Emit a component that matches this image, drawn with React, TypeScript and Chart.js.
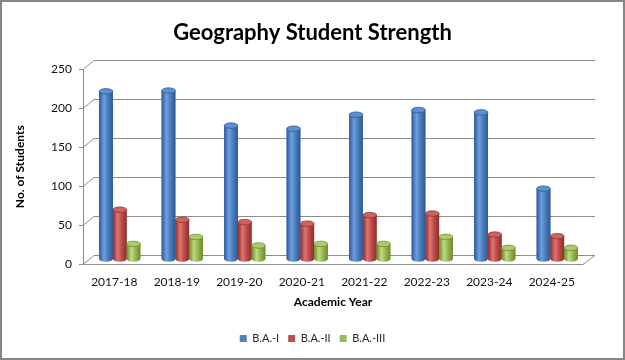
import React, { useEffect, useRef } from 'react';
import { Chart, registerables } from 'chart.js';

Chart.register(...registerables);

const categories = ['2017-18', '2018-19', '2019-20', '2020-21', '2021-22', '2022-23', '2023-24', '2024-25'];
const seriesNames = ['B.A.-I', 'B.A.-II', 'B.A.-III'];
const baI = [216, 217, 172, 168, 186, 192, 189, 91];
const baII = [64, 51, 48, 46, 57, 59, 32, 30];
const baIII = [20, 29, 18, 20, 20, 29, 15, 15];
const yTickValues = [0, 50, 100, 150, 200, 250];

const FONT = 'Lato, "Open Sans", sans-serif';
const DX = 11;
const DY = -9;

const palette = [
  { base: '#4F81BD', dark: '#2B5896', light: '#6E9EE0', cap: '#5E8FD2', edge: '#2F5D96' },
  { base: '#C0504D', dark: '#8C2E2B', light: '#E07572', cap: '#CF625F', edge: '#8E3431' },
  { base: '#9BBB59', dark: '#6A8A2F', light: '#BEDC7E', cap: '#AECB6C', edge: '#6F8E36' },
];

const depthPlugin = {
  id: 'depth3d',
  beforeDatasetsDraw(chart: any) {
    const { ctx, chartArea, scales } = chart;
    const y = scales.y;
    ctx.save();
    ctx.strokeStyle = '#8C8C8C';
    ctx.lineWidth = 1;
    const rightBack = chartArea.right + 12;
    yTickValues.forEach((v) => {
      const py = Math.round(y.getPixelForValue(v)) + 0.5;
      ctx.beginPath();
      ctx.moveTo(chartArea.left, py);
      ctx.lineTo(chartArea.left + DX, py + DY);
      ctx.lineTo(rightBack, py + DY);
      ctx.stroke();
    });
    const p0 = Math.round(y.getPixelForValue(0)) + 0.5;
    ctx.beginPath();
    ctx.moveTo(chartArea.left, p0);
    ctx.lineTo(chartArea.right, p0);
    ctx.lineTo(rightBack, p0 + DY);
    ctx.stroke();
    ctx.restore();
    ctx.save();
    ctx.translate(DX / 2, DY / 2);
  },
  afterDatasetsDraw(chart: any) {
    const { ctx } = chart;
    chart.data.datasets.forEach((ds: any, di: number) => {
      const meta = chart.getDatasetMeta(di);
      const col = palette[di];
      meta.data.forEach((bar: any) => {
        const { x, y, base, width } = bar.getProps(['x', 'y', 'base', 'width'], true);
        const left = x - width / 2;
        const rx = width / 2;
        const ry = width * 0.2;
        const g = ctx.createLinearGradient(left, 0, left + width, 0);
        g.addColorStop(0, col.dark);
        g.addColorStop(0.35, col.light);
        g.addColorStop(0.6, col.base);
        g.addColorStop(1, col.dark);
        ctx.save();
        ctx.fillStyle = g;
        ctx.beginPath();
        ctx.moveTo(left, y);
        ctx.lineTo(left, base);
        ctx.ellipse(x, base, rx, ry, 0, Math.PI, 0, true);
        ctx.lineTo(left + width, y);
        ctx.closePath();
        ctx.fill();
        ctx.beginPath();
        ctx.ellipse(x, y, rx, ry, 0, 0, Math.PI * 2);
        ctx.fillStyle = col.cap;
        ctx.fill();
        ctx.strokeStyle = col.edge;
        ctx.lineWidth = 0.8;
        ctx.stroke();
        ctx.restore();
      });
    });
    ctx.restore();
  },
  afterDraw(chart: any) {
    const { ctx, width, height } = chart;
    ctx.save();
    ctx.strokeStyle = '#868686';
    ctx.lineWidth = 2;
    ctx.strokeRect(1, 1, width - 2, height - 2);
    ctx.restore();
  },
};

export default function App() {
  const ref = useRef<HTMLCanvasElement | null>(null);
  useEffect(() => {
    document.body.style.margin = '0';
    const canvas = ref.current;
    if (!canvas) return;
    const chart = new Chart(canvas, {
      type: 'bar',
      data: {
        labels: categories,
        datasets: [
          { label: seriesNames[0], data: baI, backgroundColor: palette[0].base, borderWidth: 0 },
          { label: seriesNames[1], data: baII, backgroundColor: palette[1].base, borderWidth: 0 },
          { label: seriesNames[2], data: baIII, backgroundColor: palette[2].base, borderWidth: 0 },
        ],
      },
      options: {
        animation: false,
        responsive: false,
        maintainAspectRatio: false,
        devicePixelRatio: 1,
        layout: { padding: { left: 42, right: 42, top: 0, bottom: 6 } },
        datasets: { bar: { categoryPercentage: 0.66, barPercentage: 1 } },
        plugins: {
          title: {
            display: true,
            text: 'Geography Student Strength',
            color: '#000',
            font: { family: FONT, size: 22, weight: 'bold' },
            padding: { top: 20, bottom: 23 },
          },
          legend: {
            position: 'bottom',
            labels: {
              boxWidth: 7,
              boxHeight: 7,
              padding: 9,
              color: '#262626',
              font: { family: FONT, size: 11 },
            },
          },
          tooltip: { enabled: false },
        },
        scales: {
          x: {
            grid: { display: false, drawTicks: false },
            border: { display: false },
            ticks: { color: '#111', font: { family: FONT, size: 12 }, padding: 11 },
            title: {
              display: true,
              text: 'Academic Year',
              color: '#000',
              font: { family: FONT, size: 12, weight: 'bold' },
              padding: { top: 0, bottom: 15 },
            },
            afterFit: (s: any) => { s.height = 60; },
          },
          y: {
            min: 0,
            max: 250,
            ticks: { stepSize: 50, color: '#111', font: { family: FONT, size: 12 }, padding: 7 },
            grid: { drawOnChartArea: false, tickLength: 4, color: '#8C8C8C' },
            border: { display: true, color: '#8C8C8C' },
            title: {
              display: true,
              text: 'No. of Students',
              color: '#000',
              font: { family: FONT, size: 12, weight: 'bold' },
              padding: { top: -29, bottom: 0 },
            },
            afterFit: (s: any) => { s.width = 41; },
          },
        },
      },
      plugins: [depthPlugin],
    });
    return () => chart.destroy();
  }, []);
  return <canvas ref={ref} width={625} height={360} style={{ display: 'block', width: 625, height: 360 }} />;
}
